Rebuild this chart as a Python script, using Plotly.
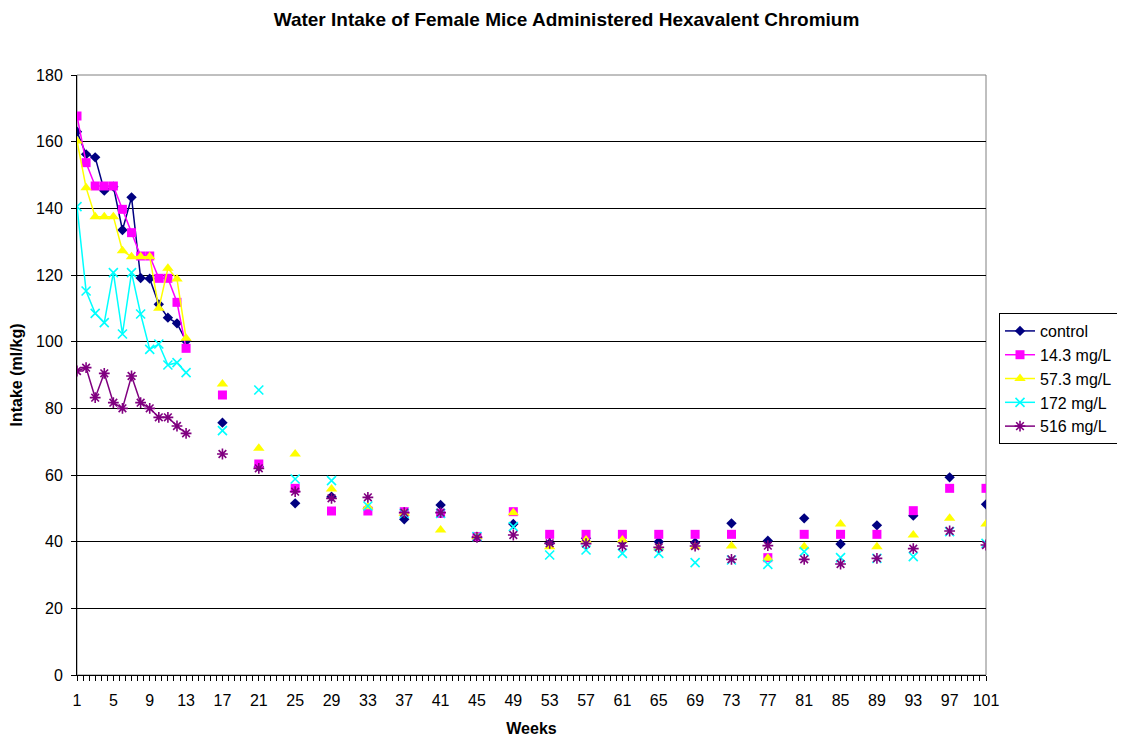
import plotly.graph_objects as go

# ---- data ----
weeks = list(range(1, 14)) + list(range(17, 102, 4))

control = [163, 156.2, 155.3, 145.3, 146.5, 133.5, 143.3, 119.1, 118.9, 111.2, 107.2, 105.5, 100.2,
           75.7, 62.5, 51.5, 53.5, 50.0, 46.7, 51.0, 41.5, 45.3, 39.5, 41.0, 40.0, 40.0, 39.7, 45.5,
           40.3, 47.0, 39.3, 44.9, 47.8, 59.3, 51.2]
mg14_3 = [167.7, 153.7, 146.7, 146.7, 146.7, 139.7, 132.7, 125.7, 125.7, 119.0, 119.0, 111.8, 98.0,
          84.0, 63.3, 56.0, 49.2, 49.2, 49.0, 48.5, 41.5, 49.0, 42.2, 42.2, 42.2, 42.2, 42.2, 42.2,
          35.2, 42.2, 42.2, 42.2, 49.3, 56.0, 56.0]
mg57_3 = [160.2, 146.2, 137.5, 137.5, 137.5, 127.3, 125.5, 125.5, 125.5, 110.0, 122.0, 118.8, 101.0,
          87.3, 68.0, 66.3, 55.8, 50.5, 48.5, 43.5, 41.5, 48.7, 38.5, 40.5, 40.5, 38.2, 38.5, 38.7,
          35.0, 38.5, 45.3, 38.5, 42.0, 47.0, 45.3]
mg172 = [140.5, 115.2, 108.5, 105.7, 120.7, 102.3, 120.7, 108.3, 97.7, 99.3, 93.0, 93.7, 90.7,
         73.3, 85.5, 58.8, 58.3, 50.7, 48.5, 48.5, 41.5, 44.5, 36.0, 37.5, 36.5, 36.5, 33.7, 34.5,
         33.2, 37.0, 35.2, 35.0, 35.5, 43.0, 39.5]
mg516 = [91.2, 92.2, 83.2, 90.5, 81.7, 80.0, 89.7, 81.7, 80.0, 77.3, 77.3, 74.7, 72.5,
         66.3, 62.0, 55.0, 53.0, 53.3, 48.7, 48.7, 41.3, 42.0, 39.5, 39.4, 38.7, 38.3, 38.7, 34.7,
         38.8, 34.7, 33.3, 35.0, 37.9, 43.2, 39.0]

series_names = ["control", "14.3 mg/L", "57.3 mg/L", "172 mg/L", "516 mg/L"]
series_values = [control, mg14_3, mg57_3, mg172, mg516]
colors = ["#000080", "#FF00FF", "#FFFF00", "#00FFFF", "#800080"]
symbols = ["diamond", "square", "triangle-up", "x-thin", "asterisk"]
sizes = [8, 9, 10, 9, 9]

x_ticks = list(range(1, 102, 4))
y_ticks = list(range(0, 181, 20))


def with_gaps(xs, ys):
    """Insert None where weeks are not consecutive so the line breaks (like blank cells)."""
    ox, oy = [], []
    prev = None
    for xv, yv in zip(xs, ys):
        if prev is not None and xv - prev > 1:
            ox.append(None)
            oy.append(None)
        ox.append(xv)
        oy.append(yv)
        prev = xv
    return ox, oy


FONT = "Arial, 'Liberation Sans', sans-serif"
W, H = 1117, 730  # page body adds an 8px margin

fig = go.Figure()
for name, vals, col, sym, sz in zip(series_names, series_values, colors, symbols, sizes):
    gx, gy = with_gaps(weeks, vals)
    line_sym = sym in ("x-thin", "asterisk")
    marker = dict(symbol=sym, size=sz, color=col)
    if line_sym:
        marker["line"] = dict(color=col, width=1.6)
    else:
        marker["line"] = dict(width=0)
    fig.add_trace(go.Scatter(
        x=gx, y=gy, name=name, mode="lines+markers",
        line=dict(color=col, width=1.5),
        marker=marker, connectgaps=False,
        legendgroup=name,
    ))

fig.update_layout(
    width=W, height=H,
    margin=dict(l=69, r=139, t=67, b=63, autoexpand=False),
    paper_bgcolor="white", plot_bgcolor="white",
    font=dict(family=FONT, size=16, color="black"),
    title=dict(text="<b>Water Intake of Female Mice Administered Hexavalent Chromium</b>",
               x=0.5, xanchor="center", xref="container",
               y=1 - 11 / H, yanchor="middle", yref="container",
               font=dict(family=FONT, size=19, color="black")),
    showlegend=True,
    legend=dict(x=1.0143, y=0.6033, xanchor="left", yanchor="top",
                bordercolor="black", borderwidth=1, bgcolor="white",
                font=dict(family=FONT, size=16, color="black"),
                tracegroupgap=0, itemwidth=30),
    shapes=[dict(type="rect", xref="paper", yref="paper", x0=0, x1=1, y0=0, y1=1,
                 line=dict(color="#808080", width=1), layer="below")],
)

fig.update_xaxes(
    range=[1, 101], tickmode="array", tickvals=x_ticks, ticktext=[str(v) for v in x_ticks],
    ticks="outside", ticklen=5, tickcolor="black", tickwidth=1, ticklabelstandoff=6,
    minor=dict(ticks="outside", ticklen=5, tickcolor="black", tickwidth=1,
               tick0=1, dtick=4 / 6, showgrid=False),
    showline=True, linecolor="black", linewidth=1,
    showgrid=False, zeroline=False, automargin=False,
    tickfont=dict(family=FONT, size=16, color="black"),
    title=dict(text="<b>Weeks</b>", font=dict(family=FONT, size=16, color="black"), standoff=14),
)
fig.update_yaxes(
    range=[0, 180], tickmode="array", tickvals=y_ticks,
    ticks="outside", ticklen=5, tickcolor="black", tickwidth=1, ticklabelstandoff=5,
    showline=True, linecolor="black", linewidth=1,
    showgrid=True, gridcolor="black", gridwidth=1, zeroline=False, automargin=False,
    tickfont=dict(family=FONT, size=16, color="black"),
    title=dict(text="<b>Intake (ml/kg)</b>", font=dict(family=FONT, size=16, color="black"), standoff=9),
)

fig.write_html("out.html")
